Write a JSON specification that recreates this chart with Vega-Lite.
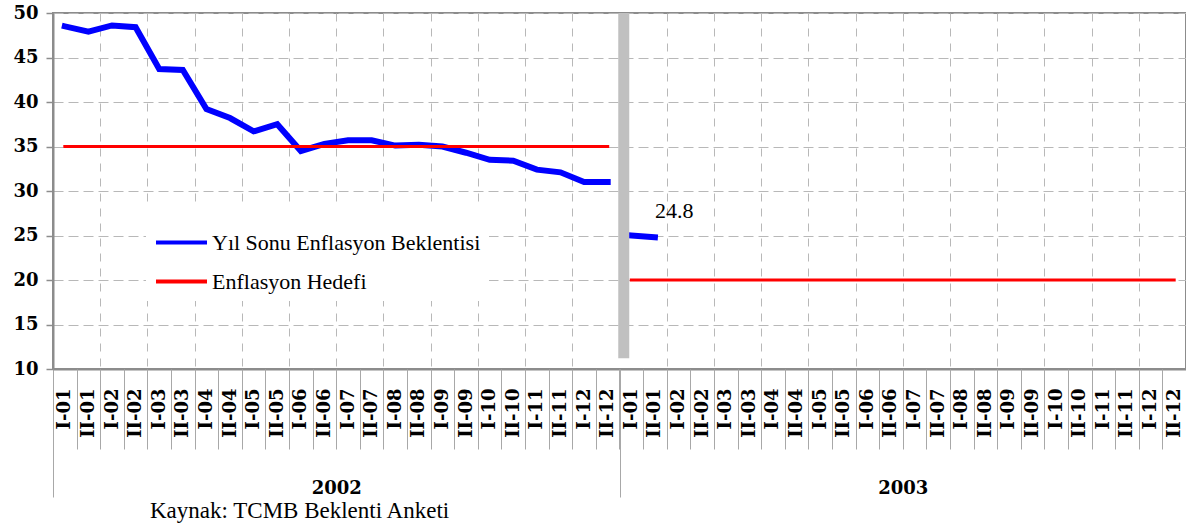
{
  "$schema": "https://vega.github.io/schema/vega-lite/v6.json",
  "width": 1133,
  "height": 356,
  "autosize": {"type": "none"},
  "padding": {"left": 53, "top": 13, "right": 0, "bottom": 158},
  "background": "white",
  "title": {"text": "Kaynak: TCMB Beklenti Anketi", "orient": "bottom", "anchor": "start", "frame": "group", "dx": 97, "offset": 2, "font": "Liberation Serif, Times New Roman, serif", "fontSize": 23, "fontWeight": "normal", "color": "black"},
  "config": {
    "view": {"stroke": "#8c8c8c", "strokeWidth": 2}
  },
  "data": {"values": [
    {"yil": "2002", "kod": "2002 I-01", "seri": "Enflasyon Hedefi", "deger": 35},
    {"yil": "2002", "kod": "2002 II-01", "seri": "Enflasyon Hedefi", "deger": 35},
    {"yil": "2002", "kod": "2002 I-02", "seri": "Enflasyon Hedefi", "deger": 35},
    {"yil": "2002", "kod": "2002 II-02", "seri": "Enflasyon Hedefi", "deger": 35},
    {"yil": "2002", "kod": "2002 I-03", "seri": "Enflasyon Hedefi", "deger": 35},
    {"yil": "2002", "kod": "2002 II-03", "seri": "Enflasyon Hedefi", "deger": 35},
    {"yil": "2002", "kod": "2002 I-04", "seri": "Enflasyon Hedefi", "deger": 35},
    {"yil": "2002", "kod": "2002 II-04", "seri": "Enflasyon Hedefi", "deger": 35},
    {"yil": "2002", "kod": "2002 I-05", "seri": "Enflasyon Hedefi", "deger": 35},
    {"yil": "2002", "kod": "2002 II-05", "seri": "Enflasyon Hedefi", "deger": 35},
    {"yil": "2002", "kod": "2002 I-06", "seri": "Enflasyon Hedefi", "deger": 35},
    {"yil": "2002", "kod": "2002 II-06", "seri": "Enflasyon Hedefi", "deger": 35},
    {"yil": "2002", "kod": "2002 I-07", "seri": "Enflasyon Hedefi", "deger": 35},
    {"yil": "2002", "kod": "2002 II-07", "seri": "Enflasyon Hedefi", "deger": 35},
    {"yil": "2002", "kod": "2002 I-08", "seri": "Enflasyon Hedefi", "deger": 35},
    {"yil": "2002", "kod": "2002 II-08", "seri": "Enflasyon Hedefi", "deger": 35},
    {"yil": "2002", "kod": "2002 I-09", "seri": "Enflasyon Hedefi", "deger": 35},
    {"yil": "2002", "kod": "2002 II-09", "seri": "Enflasyon Hedefi", "deger": 35},
    {"yil": "2002", "kod": "2002 I-10", "seri": "Enflasyon Hedefi", "deger": 35},
    {"yil": "2002", "kod": "2002 II-10", "seri": "Enflasyon Hedefi", "deger": 35},
    {"yil": "2002", "kod": "2002 I-11", "seri": "Enflasyon Hedefi", "deger": 35},
    {"yil": "2002", "kod": "2002 II-11", "seri": "Enflasyon Hedefi", "deger": 35},
    {"yil": "2002", "kod": "2002 I-12", "seri": "Enflasyon Hedefi", "deger": 35},
    {"yil": "2002", "kod": "2002 II-12", "seri": "Enflasyon Hedefi", "deger": 35},
    {"yil": "2003", "kod": "2003 I-01", "seri": "Enflasyon Hedefi", "deger": 20},
    {"yil": "2003", "kod": "2003 II-01", "seri": "Enflasyon Hedefi", "deger": 20},
    {"yil": "2003", "kod": "2003 I-02", "seri": "Enflasyon Hedefi", "deger": 20},
    {"yil": "2003", "kod": "2003 II-02", "seri": "Enflasyon Hedefi", "deger": 20},
    {"yil": "2003", "kod": "2003 I-03", "seri": "Enflasyon Hedefi", "deger": 20},
    {"yil": "2003", "kod": "2003 II-03", "seri": "Enflasyon Hedefi", "deger": 20},
    {"yil": "2003", "kod": "2003 I-04", "seri": "Enflasyon Hedefi", "deger": 20},
    {"yil": "2003", "kod": "2003 II-04", "seri": "Enflasyon Hedefi", "deger": 20},
    {"yil": "2003", "kod": "2003 I-05", "seri": "Enflasyon Hedefi", "deger": 20},
    {"yil": "2003", "kod": "2003 II-05", "seri": "Enflasyon Hedefi", "deger": 20},
    {"yil": "2003", "kod": "2003 I-06", "seri": "Enflasyon Hedefi", "deger": 20},
    {"yil": "2003", "kod": "2003 II-06", "seri": "Enflasyon Hedefi", "deger": 20},
    {"yil": "2003", "kod": "2003 I-07", "seri": "Enflasyon Hedefi", "deger": 20},
    {"yil": "2003", "kod": "2003 II-07", "seri": "Enflasyon Hedefi", "deger": 20},
    {"yil": "2003", "kod": "2003 I-08", "seri": "Enflasyon Hedefi", "deger": 20},
    {"yil": "2003", "kod": "2003 II-08", "seri": "Enflasyon Hedefi", "deger": 20},
    {"yil": "2003", "kod": "2003 I-09", "seri": "Enflasyon Hedefi", "deger": 20},
    {"yil": "2003", "kod": "2003 II-09", "seri": "Enflasyon Hedefi", "deger": 20},
    {"yil": "2003", "kod": "2003 I-10", "seri": "Enflasyon Hedefi", "deger": 20},
    {"yil": "2003", "kod": "2003 II-10", "seri": "Enflasyon Hedefi", "deger": 20},
    {"yil": "2003", "kod": "2003 I-11", "seri": "Enflasyon Hedefi", "deger": 20},
    {"yil": "2003", "kod": "2003 II-11", "seri": "Enflasyon Hedefi", "deger": 20},
    {"yil": "2003", "kod": "2003 I-12", "seri": "Enflasyon Hedefi", "deger": 20},
    {"yil": "2003", "kod": "2003 II-12", "seri": "Enflasyon Hedefi", "deger": 20},
    {"yil": "2002", "kod": "2002 I-01", "seri": "Yıl Sonu Enflasyon Beklentisi", "deger": 48.5},
    {"yil": "2002", "kod": "2002 II-01", "seri": "Yıl Sonu Enflasyon Beklentisi", "deger": 47.9},
    {"yil": "2002", "kod": "2002 I-02", "seri": "Yıl Sonu Enflasyon Beklentisi", "deger": 48.6},
    {"yil": "2002", "kod": "2002 II-02", "seri": "Yıl Sonu Enflasyon Beklentisi", "deger": 48.4},
    {"yil": "2002", "kod": "2002 I-03", "seri": "Yıl Sonu Enflasyon Beklentisi", "deger": 43.7},
    {"yil": "2002", "kod": "2002 II-03", "seri": "Yıl Sonu Enflasyon Beklentisi", "deger": 43.6},
    {"yil": "2002", "kod": "2002 I-04", "seri": "Yıl Sonu Enflasyon Beklentisi", "deger": 39.2},
    {"yil": "2002", "kod": "2002 II-04", "seri": "Yıl Sonu Enflasyon Beklentisi", "deger": 38.2},
    {"yil": "2002", "kod": "2002 I-05", "seri": "Yıl Sonu Enflasyon Beklentisi", "deger": 36.7},
    {"yil": "2002", "kod": "2002 II-05", "seri": "Yıl Sonu Enflasyon Beklentisi", "deger": 37.5},
    {"yil": "2002", "kod": "2002 I-06", "seri": "Yıl Sonu Enflasyon Beklentisi", "deger": 34.5},
    {"yil": "2002", "kod": "2002 II-06", "seri": "Yıl Sonu Enflasyon Beklentisi", "deger": 35.3},
    {"yil": "2002", "kod": "2002 I-07", "seri": "Yıl Sonu Enflasyon Beklentisi", "deger": 35.7},
    {"yil": "2002", "kod": "2002 II-07", "seri": "Yıl Sonu Enflasyon Beklentisi", "deger": 35.7},
    {"yil": "2002", "kod": "2002 I-08", "seri": "Yıl Sonu Enflasyon Beklentisi", "deger": 35.1},
    {"yil": "2002", "kod": "2002 II-08", "seri": "Yıl Sonu Enflasyon Beklentisi", "deger": 35.2},
    {"yil": "2002", "kod": "2002 I-09", "seri": "Yıl Sonu Enflasyon Beklentisi", "deger": 35.0},
    {"yil": "2002", "kod": "2002 II-09", "seri": "Yıl Sonu Enflasyon Beklentisi", "deger": 34.3},
    {"yil": "2002", "kod": "2002 I-10", "seri": "Yıl Sonu Enflasyon Beklentisi", "deger": 33.5},
    {"yil": "2002", "kod": "2002 II-10", "seri": "Yıl Sonu Enflasyon Beklentisi", "deger": 33.4},
    {"yil": "2002", "kod": "2002 I-11", "seri": "Yıl Sonu Enflasyon Beklentisi", "deger": 32.4},
    {"yil": "2002", "kod": "2002 II-11", "seri": "Yıl Sonu Enflasyon Beklentisi", "deger": 32.1},
    {"yil": "2002", "kod": "2002 I-12", "seri": "Yıl Sonu Enflasyon Beklentisi", "deger": 31.0},
    {"yil": "2002", "kod": "2002 II-12", "seri": "Yıl Sonu Enflasyon Beklentisi", "deger": 31.0},
    {"yil": "2003", "kod": "2003 I-01", "seri": "Yıl Sonu Enflasyon Beklentisi", "deger": 25.0},
    {"yil": "2003", "kod": "2003 II-01", "seri": "Yıl Sonu Enflasyon Beklentisi", "deger": 24.8}
  ]},
  "layer": [
    {
      "encoding": {
        "x": {
          "field": "kod", "type": "nominal",
          "scale": {"type": "point", "padding": 0.5, "domain": [
            "2002 I-01","2002 II-01","2002 I-02","2002 II-02","2002 I-03","2002 II-03","2002 I-04","2002 II-04","2002 I-05","2002 II-05","2002 I-06","2002 II-06","2002 I-07","2002 II-07","2002 I-08","2002 II-08","2002 I-09","2002 II-09","2002 I-10","2002 II-10","2002 I-11","2002 II-11","2002 I-12","2002 II-12",
            "2003 I-01","2003 II-01","2003 I-02","2003 II-02","2003 I-03","2003 II-03","2003 I-04","2003 II-04","2003 I-05","2003 II-05","2003 I-06","2003 II-06","2003 I-07","2003 II-07","2003 I-08","2003 II-08","2003 I-09","2003 II-09","2003 I-10","2003 II-10","2003 I-11","2003 II-11","2003 I-12","2003 II-12"]},
          "axis": {
            "orient": "bottom", "title": null,
            "domainColor": "#8c8c8c", "domainWidth": 2,
            "ticks": false, "tickSize": 0, "grid": false,
            "labelAngle": -90, "labelAlign": "right", "labelBaseline": "middle",
            "labelFont": "DejaVu Serif", "labelFontWeight": "bold", "labelFontSize": 18, "labelColor": "black",
            "labelPadding": 19, "labelOverlap": false,
            "labelExpr": "substring(datum.value, 5)"
          }
        },
        "y": {
          "field": "deger", "type": "quantitative",
          "scale": {"domain": [10, 50], "nice": false, "zero": false},
          "axis": {
            "title": null, "values": [10, 15, 20, 25, 30, 35, 40, 45, 50],
            "domainColor": "#8c8c8c", "domainWidth": 2,
            "tickColor": "#8c8c8c", "tickSize": 7, "tickWidth": 1.5,
            "labelPadding": 8, "labelFont": "DejaVu Serif", "labelFontWeight": "bold", "labelFontSize": 18, "labelColor": "black",
            "grid": true, "gridColor": "#b8b8b8", "gridDash": [10, 5]
          }
        }
      },
      "layer": [
        {
          "transform": [{"filter": "datum.seri == 'Yıl Sonu Enflasyon Beklentisi'"}],
          "mark": {"type": "line", "strokeWidth": 6, "strokeCap": "square"},
          "encoding": {
            "detail": {"field": "yil", "type": "nominal"},
            "color": {"field": "seri", "type": "nominal", "scale": {"domain": ["Yıl Sonu Enflasyon Beklentisi", "Enflasyon Hedefi"], "range": ["#0000ff", "#ff0000"]},
              "legend": {"title": null, "orient": "none", "legendX": 93, "legendY": 194, "fillColor": "white", "padding": 8, "symbolType": "stroke", "symbolStrokeWidth": 4, "symbolSize": 2601, "labelOffset": 3, "labelFont": "Liberation Serif, Times New Roman, serif", "labelFontSize": 22, "labelColor": "black", "rowPadding": -11, "labelLimit": 400}}
          }
        },
        {
          "transform": [{"filter": "datum.kod == '2003 II-01' && datum.seri == 'Yıl Sonu Enflasyon Beklentisi'"}],
          "mark": {"type": "text", "align": "left", "baseline": "middle", "dx": 0, "dy": -26, "font": "Liberation Serif, Times New Roman, serif", "fontSize": 22, "color": "black"},
          "encoding": {
            "text": {"field": "deger", "type": "quantitative", "format": ".1f"}
          }
        }
      ]
    },
    {
      "transform": [{"filter": "datum.seri == 'Enflasyon Hedefi'"}],
      "mark": {"type": "line", "strokeWidth": 3, "strokeCap": "square"},
      "encoding": {
        "x": {
          "field": "kod", "type": "nominal",
          "scale": {"type": "point", "padding": 0.5, "domain": [
            "2002 I-01","2002 II-01","2002 I-02","2002 II-02","2002 I-03","2002 II-03","2002 I-04","2002 II-04","2002 I-05","2002 II-05","2002 I-06","2002 II-06","2002 I-07","2002 II-07","2002 I-08","2002 II-08","2002 I-09","2002 II-09","2002 I-10","2002 II-10","2002 I-11","2002 II-11","2002 I-12","2002 II-12",
            "2003 I-01","2003 II-01","2003 I-02","2003 II-02","2003 I-03","2003 II-03","2003 I-04","2003 II-04","2003 I-05","2003 II-05","2003 I-06","2003 II-06","2003 I-07","2003 II-07","2003 I-08","2003 II-08","2003 I-09","2003 II-09","2003 I-10","2003 II-10","2003 I-11","2003 II-11","2003 I-12","2003 II-12"]},
          "axis": {
            "orient": "bottom", "title": null, "domain": false, "labels": false,
            "ticks": true, "tickSize": 80, "tickColor": "#a8a8a8", "tickWidth": 1, "tickOffset": 11.8,
            "grid": true, "gridDash": [8, 7], "gridColor": "#b8b8b8",
            "gridOpacity": {"condition": {"test": "indexof(datum.value, ' II-') >= 0 && datum.value != '2002 II-12' && datum.value != '2003 II-12'", "value": 1}, "value": 0}
          }
        },
        "y": {
          "field": "deger", "type": "quantitative",
          "scale": {"domain": [10, 50], "nice": false, "zero": false},
          "axis": {
            "title": null, "values": [10, 15, 20, 25, 30, 35, 40, 45, 50],
            "domainColor": "#8c8c8c", "domainWidth": 2,
            "tickColor": "#8c8c8c", "tickSize": 7, "tickWidth": 1.5,
            "labelPadding": 8, "labelFont": "DejaVu Serif", "labelFontWeight": "bold", "labelFontSize": 18, "labelColor": "black",
            "grid": true, "gridColor": "#b8b8b8", "gridDash": [10, 5]
          }
        },
        "detail": {"field": "yil", "type": "nominal"},
        "color": {"field": "seri", "type": "nominal", "scale": {"domain": ["Yıl Sonu Enflasyon Beklentisi", "Enflasyon Hedefi"], "range": ["#0000ff", "#ff0000"]},
          "legend": {"title": null, "orient": "none", "legendX": 93, "legendY": 194, "fillColor": "white", "padding": 8, "symbolType": "stroke", "symbolStrokeWidth": 4, "symbolSize": 2601, "labelOffset": 3, "labelFont": "Liberation Serif, Times New Roman, serif", "labelFontSize": 22, "labelColor": "black", "rowPadding": -11, "labelLimit": 400}}
      }
    },
    {
      "data": {"values": [{"yil": "2003", "ust": 50, "alt": 11.2}]},
      "mark": {"type": "rule", "color": "#c0c0c0", "strokeWidth": 11, "xOffset": -279},
      "encoding": {
        "x": {
          "field": "yil", "type": "nominal",
          "scale": {"type": "point", "padding": 0.5, "domain": ["2002", "2003"]},
          "axis": {
            "orient": "bottom", "title": null, "domain": false, "grid": false,
            "tickSize": 128, "tickColor": "#a8a8a8", "tickWidth": 1, "tickOffset": -283.25, "labelOffset": 283.25,
            "labelPadding": 0, "labelAngle": 0, "labelBaseline": "bottom", "labelAlign": "center",
            "labelFont": "DejaVu Serif", "labelFontWeight": "bold", "labelFontSize": 18, "labelColor": "black"
          }
        },
        "y": {
          "field": "ust", "type": "quantitative",
          "scale": {"domain": [10, 50], "nice": false, "zero": false},
          "axis": {
            "title": null, "values": [10, 15, 20, 25, 30, 35, 40, 45, 50],
            "domainColor": "#8c8c8c", "domainWidth": 2,
            "tickColor": "#8c8c8c", "tickSize": 7, "tickWidth": 1.5,
            "labelPadding": 8, "labelFont": "DejaVu Serif", "labelFontWeight": "bold", "labelFontSize": 18, "labelColor": "black",
            "grid": true, "gridColor": "#b8b8b8", "gridDash": [10, 5]
          }
        },
        "y2": {"field": "alt"}
      }
    }
  ],
  "resolve": {"scale": {"x": "independent"}, "axis": {"x": "independent"}}
}
